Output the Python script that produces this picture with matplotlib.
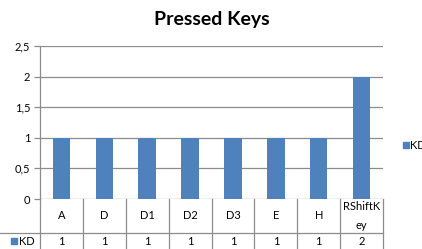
import matplotlib
matplotlib.use("Agg")
import matplotlib.pyplot as plt

plt.rcParams['font.family'] = ['Lato', 'DejaVu Sans']

keys = ['A', 'D', 'D1', 'D2', 'D3', 'E', 'H', 'RShiftK\ney']
kd = [1, 1, 1, 1, 1, 1, 1, 2]
series_name = 'KD'
yticks = [0, 0.5, 1, 1.5, 2, 2.5]
ytick_labels = ['0', '0,5', '1', '1,5', '2', '2,5']

W, H = 422, 249
bar_color = '#4F81BD'
grid_color = '#8C8C8C'

fig = plt.figure(figsize=(W / 100, H / 100), dpi=100)

# plot area in pixel coords
x0, x1 = 40, 383
y_top, y_bot = 46, 199
ax = fig.add_axes([x0 / W, (H - y_bot) / H, (x1 - x0) / W, (y_bot - y_top) / H])

xs = list(range(len(keys)))
ax.bar(xs, kd, width=0.41, color=bar_color, zorder=3)
ax.set_xlim(-0.5, len(keys) - 0.5)
ax.set_ylim(0, 2.5)
ax.set_yticks(yticks)
ax.set_yticklabels(ytick_labels, fontsize=8)
ax.set_xticks([])
ax.yaxis.grid(True, color=grid_color, linewidth=0.9, zorder=0)
ax.tick_params(axis='y', length=4, color=grid_color, width=0.9, pad=3)
for s in ['top', 'right', 'bottom']:
    ax.spines[s].set_visible(False)
ax.spines['left'].set_color(grid_color)
ax.spines['left'].set_linewidth(0.9)

fig.text(212 / W, 1 - 20 / H, 'Pressed Keys', fontsize=14, fontweight='bold',
         ha='center', va='center')

# data table under the plot, in pixel coords overlay
ov = fig.add_axes([0, 0, 1, 1])
ov.set_xlim(0, W)
ov.set_ylim(H, 0)
ov.axis('off')
ov.patch.set_alpha(0)

row1 = 232.5
colw = (x1 - x0) / len(keys)
ov.plot([0, x1], [row1, row1], color=grid_color, lw=0.9)
for i in range(len(keys) + 1):
    xb = x0 + i * colw
    ov.plot([xb, xb], [y_bot, H], color=grid_color, lw=0.9)

for i, (k, v) in enumerate(zip(keys, kd)):
    xc = x0 + (i + 0.5) * colw
    ov.text(xc, (y_bot + row1) / 2, k, fontsize=8, ha='center', va='center',
            linespacing=1.9)
    ov.text(xc, 241.5, str(v), fontsize=8, ha='center', va='center')

ov.add_patch(plt.Rectangle((11, 238), 6, 6, color=bar_color))
ov.text(18.5, 241.5, series_name, fontsize=8, ha='left', va='center')

# legend
ov.add_patch(plt.Rectangle((403, 142), 5.5, 5.5, color=bar_color))
ov.text(410, 145, series_name, fontsize=8, ha='left', va='center')

fig.savefig('out.png', dpi=100)
